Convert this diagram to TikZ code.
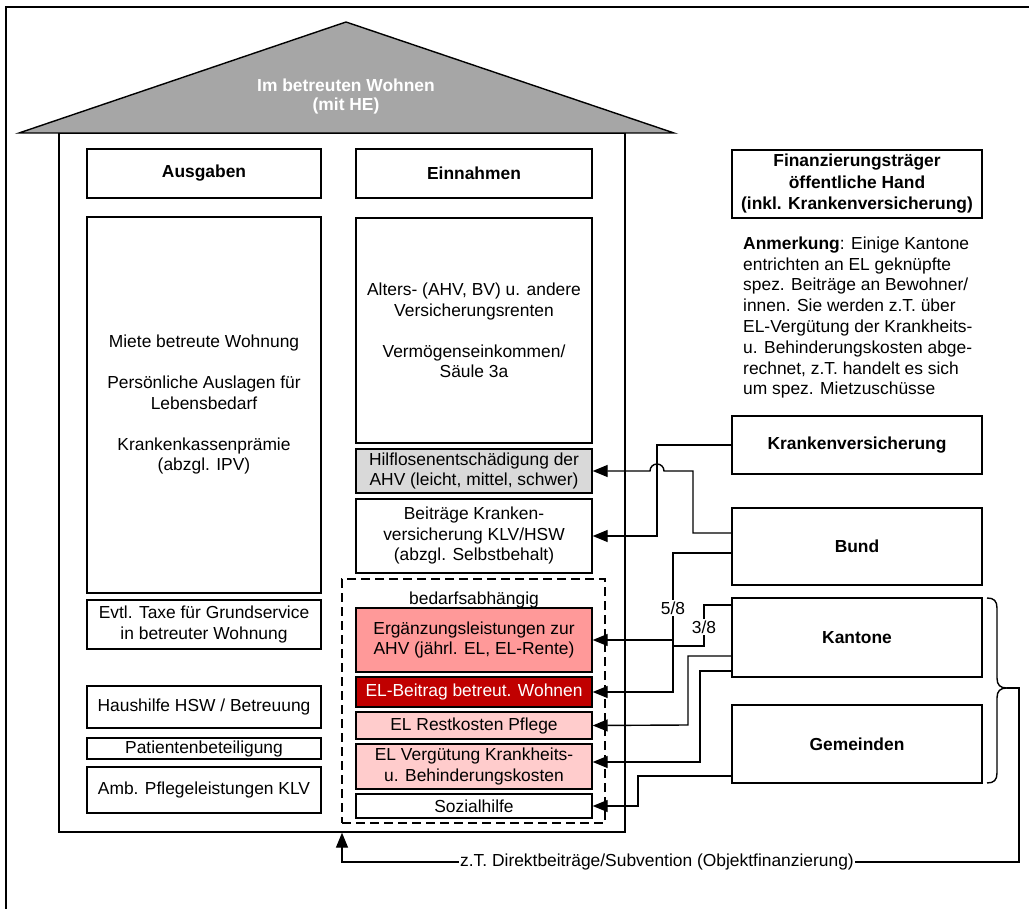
\documentclass[tikz,border=0pt]{standalone}
\usepackage{fontspec}
\setmainfont{Liberation Sans}
\usetikzlibrary{arrows.meta}
\definecolor{roofgray}{HTML}{A6A6A6}
\definecolor{hegray}{HTML}{D9D9D9}
\definecolor{elpink}{HTML}{FF9999}
\definecolor{eldark}{HTML}{C00000}
\definecolor{elpale}{HTML}{FFCCCC}
\newcommand\txt{\fontsize{17.4}{20.5}\selectfont}
\newcommand\txtb{\fontsize{17.4}{21.5}\selectfont\bfseries}
\begin{document}
\begin{tikzpicture}[x=1pt,y=-1pt,
  every node/.style={font=\txt, inner sep=0pt},
  box/.style={draw, line width=1.4pt, align=center, fill=white},
  lcol/.style={box, minimum width=234pt},
  mcol/.style={box, minimum width=236pt},
  rcol/.style={box, minimum width=250pt, font=\txtb},
  wire/.style={line width=1.4pt},
  arr/.style={wire, -{Triangle[length=15pt,width=12pt]}},
  tag/.style={fill=white, inner sep=1.5pt}]
\useasboundingbox (0,0) rectangle (1029,909);

% outer frame (left and top edges)
\draw[line width=1.4pt] (6,909) -- (6,7) -- (1029,7);

% house body and roof
\node[draw, line width=1.4pt, fill=white, minimum width=566pt, minimum height=699pt] (house) at (342,482.5) {};
\draw[line width=1.4pt, fill=roofgray] (19,133) -- (346,22) -- (674,133) -- cycle;
\node[align=center, text=white, font=\fontsize{17.4}{19}\selectfont\bfseries] (roof) at (346,96.5) {Im betreuten Wohnen\\(mit HE)};

% expenses column
\node[lcol, minimum height=49pt, font=\txt\bfseries] (ausg) at (204,173.5) {Ausgaben};
\node[lcol, minimum height=376pt] (miete) at (204,405) {Miete betreute Wohnung\\[20.5pt]Persönliche Auslagen für\\Lebensbedarf\\[20.5pt]Krankenkassenprämie\\(abzgl. IPV)};
\node[lcol, minimum height=49pt] (taxe) at (204,624.5) {Evtl. Taxe für Grundservice\\in betreuter Wohnung};
\node[lcol, minimum height=42pt] (haus) at (204,707) {Haushilfe HSW / Betreuung};
\node[lcol, minimum height=21pt] (pat) at (204,748.5) {Patientenbeteiligung};
\node[lcol, minimum height=46pt] (amb) at (204,790) {Amb. Pflegeleistungen KLV};

% income column
\node[mcol, minimum height=49pt, font=\txt\bfseries] (einn) at (474,173.5) {Einnahmen};
\node[mcol, minimum height=225pt] (rent) at (474,330.5) {Alters- (AHV, BV) u. andere\\Versicherungsrenten\\[20.5pt]Vermögenseinkommen/\\Säule 3a};
\node[mcol, minimum height=44pt, fill=hegray] (hilf) at (474,471) {Hilflosenentschädigung der\\AHV (leicht, mittel, schwer)};
\node[mcol, minimum height=74pt] (beit) at (474,536) {Beiträge Kranken-\\versicherung KLV/HSW\\(abzgl. Selbstbehalt)};
\node[draw, line width=1.4pt, dash pattern=on 9pt off 5pt, minimum width=263pt, minimum height=244pt] (bed) at (473.5,701) {};
\node (bedlab) at (474,600) {bedarfsabhängig};
\node[mcol, minimum height=64pt, fill=elpink] (erg) at (474,640) {Ergänzungsleistungen zur\\AHV (jährl. EL, EL-Rente)};
\node[mcol, minimum height=30pt, fill=eldark, text=white] (elb) at (474,692) {EL-Beitrag betreut. Wohnen};
\node[mcol, minimum height=27pt, fill=elpale] (rest) at (474,725.5) {EL Restkosten Pflege};
\node[mcol, minimum height=45pt, fill=elpale] (verg) at (474,766.5) {EL Vergütung Krankheits-\\u. Behinderungskosten};
\node[mcol, minimum height=24pt] (soz) at (474,806) {Sozialhilfe};

% funding bodies
\node[rcol, minimum height=68pt] (fin) at (857,184) {Finanzierungsträger\\öffentliche Hand\\(inkl. Krankenversicherung)};
\node[anchor=north west, align=left, font=\fontsize{17.4}{20.8}\selectfont] (anm) at (743,236.5) {\textbf{Anmerkung}: Einige Kantone\\entrichten an EL geknüpfte\\spez. Beiträge an Bewohner/\\innen. Sie werden z.T. über\\EL-Vergütung der Krankheits-\\u. Behinderungskosten abge-\\rechnet, z.T. handelt es sich\\um spez. Mietzuschüsse};
\node[rcol, minimum height=58pt] (kv) at (857,445) {Krankenversicherung};
\node[rcol, minimum height=77pt] (bund) at (857,546.5) {Bund};
\node[rcol, minimum height=79pt] (kant) at (857,637.5) {Kantone};
\node[rcol, minimum height=78pt] (gem) at (857,744) {Gemeinden};

% bend points of the connectors
\coordinate (kvb) at (657,536);
\coordinate (bdb) at (693,471);
\coordinate (hop) at (664,471);
\coordinate (b58) at (673,692);
\coordinate (k38) at (704,646);
\coordinate (j38) at (673,646);
\coordinate (j58) at (673,640);
\coordinate (krb) at (688,725);
\coordinate (kvg) at (700,762);
\coordinate (gmb) at (638,806);

\draw[arr] (kv.west) -| (kvb) -- (beit.east);
\draw[arr] ([yshift=13.5pt]bund.west) -| (bdb) -- (hop) arc[start angle=0, end angle=180, radius=7pt] -- (hilf.east);
\draw[arr] ([yshift=-6.5pt]bund.west) -| (b58) -- (elb.east);
\draw[wire] ([yshift=32.5pt]kant.west) -| (k38) -- (j38);
\draw[arr] (j58) -- (erg.east);
\draw[arr] ([yshift=-18.5pt]kant.west) -| (krb) -- (rest.east);
\draw[arr] ([yshift=-33.5pt]kant.west) -| (kvg) -- ([yshift=4.5pt]verg.east);
\draw[arr] ([yshift=-32pt]gem.west) -| (gmb) -- (soz.east);
\node[tag] (l58) at (673,608) {5/8};
\node[tag] (l38) at (704,627) {3/8};

% brace round cantons and communes, with the object funding line
\draw[wire] (987,598) .. controls (994,598) and (997,601) .. (997,608) -- (997,678)
  .. controls (997,685) and (1000,688) .. (1007,688)
  .. controls (1000,688) and (997,691) .. (997,698) -- (997,773)
  .. controls (997,780) and (994,783) .. (987,783);
\coordinate (btip) at (1007,688);
\coordinate (bcorner) at (1019,862);
\draw[arr] (btip) -| (bcorner) -| (house.south);
\node[tag] (obj) at (657,862) {z.T. Direktbeiträge/Subvention (Objektfinanzierung)};
\end{tikzpicture}
\end{document}
